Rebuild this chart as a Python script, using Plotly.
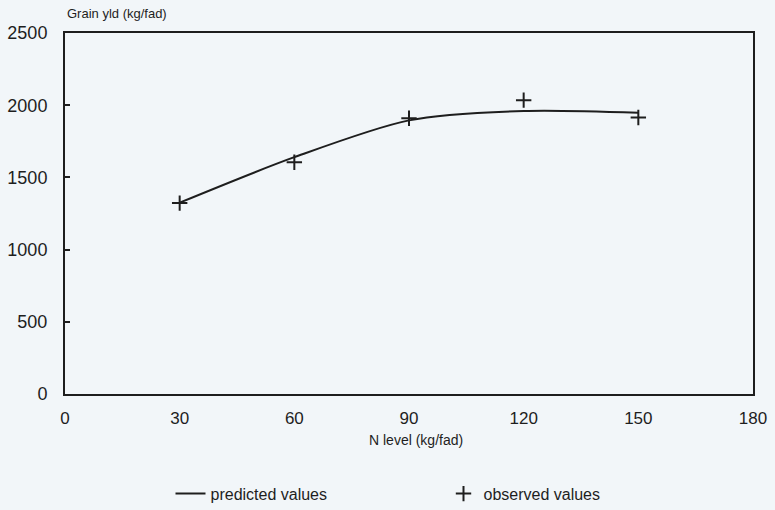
import plotly.graph_objects as go

n_levels = [30, 60, 90, 120, 150]
predicted = [1325, 1640, 1895, 1960, 1948]
observed = [1322, 1605, 1910, 2035, 1915]
x_ticks = [0, 30, 60, 90, 120, 150, 180]
y_ticks = [0, 500, 1000, 1500, 2000, 2500]

ink = "#1e1e1e"
font_family = "Liberation Sans, Arial, sans-serif"

fig = go.Figure()
fig.add_trace(go.Scatter(
    x=n_levels, y=predicted, mode="lines", name="predicted values",
    line=dict(color=ink, width=2, shape="spline", smoothing=0.8),
))
fig.add_trace(go.Scatter(
    x=n_levels, y=observed, mode="markers", name="observed values",
    marker=dict(symbol="cross-thin", size=11, line=dict(color=ink, width=2), color=ink),
))

fig.update_layout(
    width=775, height=510,
    margin=dict(l=65, r=22, t=33, b=116, autoexpand=False),
    paper_bgcolor="#f2f6f9", plot_bgcolor="#f2f6f9",
    font=dict(family=font_family, color=ink, size=16),
    showlegend=True,
    legend=dict(orientation="h", xref="container", yref="container",
                x=0.22, y=0.032, xanchor="left", yanchor="middle",
                font=dict(size=16), itemwidth=30, entrywidthmode="pixels", entrywidth=228,
                bgcolor="rgba(0,0,0,0)"),
    xaxis=dict(range=[0, 180], tickvals=x_ticks, ticktext=[str(v) for v in x_ticks],
               showgrid=False, zeroline=False, showline=True, linecolor=ink, linewidth=2,
               mirror=True, ticks="", ticklabelstandoff=8, tickfont=dict(size=17)),
    yaxis=dict(range=[0, 2500], tickvals=y_ticks, ticktext=[str(v) for v in y_ticks],
               showgrid=False, zeroline=False, showline=True, linecolor=ink, linewidth=2,
               mirror=True, ticks="inside", ticklen=5, tickwidth=1.5, tickcolor=ink,
               ticklabelstandoff=12,
               tickfont=dict(size=18, family="Liberation Sans, Arial, sans-serif")),
    annotations=[
        dict(text="Grain yld (kg/fad)", xref="paper", yref="paper", x=0, y=1,
             xanchor="left", yanchor="bottom", yshift=10, showarrow=False,
             font=dict(size=13, color=ink)),
        dict(text="N level (kg/fad)", xref="paper", yref="paper", x=0.51, y=0,
             xanchor="center", yanchor="top", yshift=-36, showarrow=False,
             font=dict(size=14, color=ink)),
    ],
)

fig.write_html("out.html")
